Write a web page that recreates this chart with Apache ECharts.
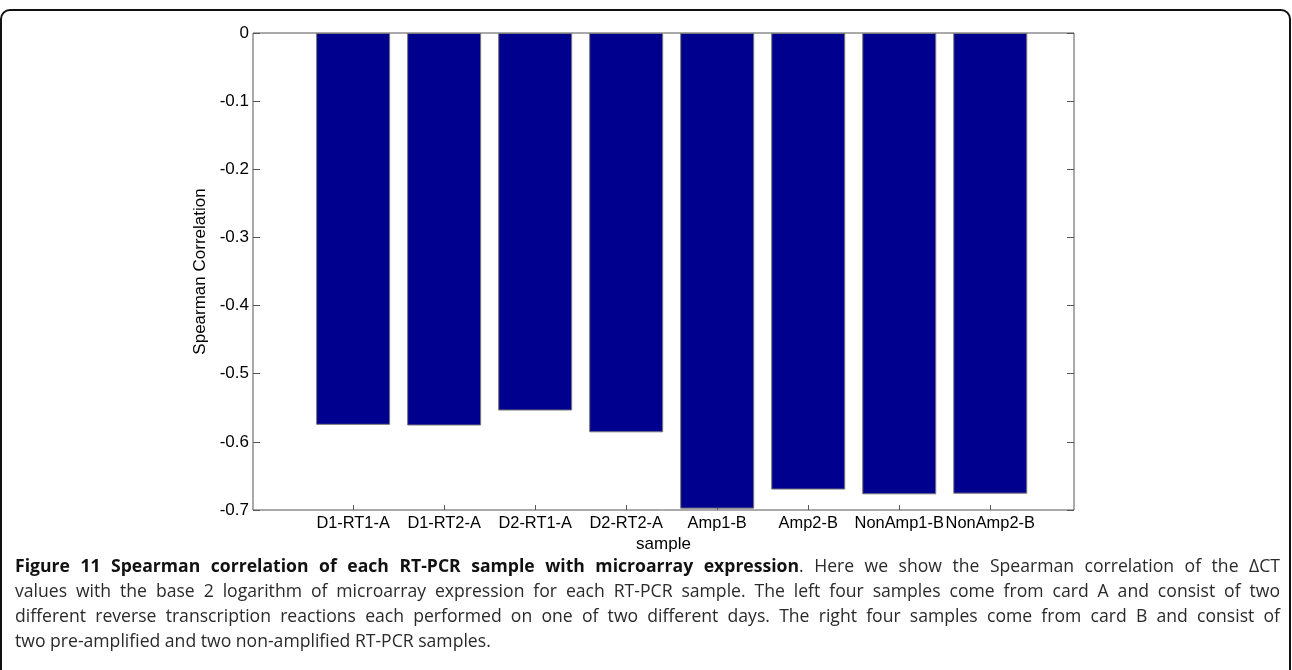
<!DOCTYPE html>
<html>
<head>
<meta charset="utf-8">
<script src="https://cdn.jsdelivr.net/npm/echarts@6/dist/echarts.min.js"></script>
<style>
  html, body { margin: 0; padding: 0; background: #fff; }
  body { width: 1292px; height: 670px; position: relative; overflow: hidden; }
  #frame {
    position: absolute; left: 0; top: 9px; width: 1287px; height: 720px;
    border: 2px solid #111; border-radius: 10px;
  }
  #chart { position: absolute; left: 0; top: 0; width: 1292px; height: 560px; }
  #caption {
    position: absolute; left: 15px; top: 553px; width: 1265px;
    font-family: "Open Sans", "Noto Sans", sans-serif; font-size: 17.6px;
    line-height: 25px; color: #2a2a2a;
  }
  #caption div { text-align: justify; text-align-last: justify; white-space: nowrap; }
  #caption div.last { text-align-last: left; }
  #caption b { font-weight: 700; color: #111; }
</style>
</head>
<body>
<div id="frame"></div>
<div id="chart"></div>
<div id="caption">
  <div><b>Figure 11 Spearman correlation of each RT-PCR sample with microarray expression</b>. Here we show the Spearman correlation of the ΔCT</div>
  <div>values with the base 2 logarithm of microarray expression for each RT-PCR sample. The left four samples come from card A and consist of two</div>
  <div>different reverse transcription reactions each performed on one of two different days. The right four samples come from card B and consist of</div>
  <div class="last">two pre-amplified and two non-amplified RT-PCR samples.</div>
</div>
<script>
// samples on the x axis
var categories = ["D1-RT1-A", "D1-RT2-A", "D2-RT1-A", "D2-RT2-A", "Amp1-B", "Amp2-B", "NonAmp1-B", "NonAmp2-B"];
// spearman correlation per sample
var correlation = [-0.575, -0.576, -0.554, -0.586, -0.698, -0.670, -0.677, -0.676];

var chart = echarts.init(document.getElementById("chart"));

var font = "Liberation Sans, Arial, sans-serif";
var positions = categories.map(function (c, i) { return i + 1; });

var option = {
    animation: false,
    grid: {
        left: 253, top: 33, width: 821, height: 477,
        show: true, borderColor: "#555", borderWidth: 1, backgroundColor: "#fff"
    },
    xAxis: {
        type: "value", min: -0.1, max: 8.92,
        name: "sample", nameLocation: "middle", nameGap: 21,
        nameTextStyle: { color: "#000", fontSize: 17, fontFamily: font },
        axisLine: { show: false, onZero: false },
        axisTick: { show: true, inside: true, length: 5, customValues: positions, lineStyle: { color: "#555" } },
        splitLine: { show: false },
        axisLabel: {
            color: "#000", fontSize: 16.4, fontFamily: font, margin: 5,
            customValues: positions, hideOverlap: false,
            showMinLabel: true, showMaxLabel: true,
            formatter: function (v) { return categories[Math.round(v) - 1] || ""; }
        }
    },
    yAxis: [{
        type: "value", min: -0.7, max: 0, interval: 0.1,
        name: "Spearman Correlation", nameLocation: "middle", nameGap: 30,
        nameTextStyle: { color: "#000", fontSize: 17, fontFamily: font },
        axisLine: { show: false, onZero: false },
        axisTick: { show: true, inside: true, length: 7, lineStyle: { color: "#555" } },
        splitLine: { show: false },
        axisLabel: {
            color: "#000", fontSize: 17, fontFamily: font, margin: 4,
            formatter: function (v) { return v === 0 ? "0" : v.toFixed(1); }
        }
    }, {
        type: "value", min: -0.7, max: 0, interval: 0.1, position: "right",
        axisLine: { show: false, onZero: false },
        axisTick: { show: true, inside: true, length: 7, lineStyle: { color: "#555" } },
        splitLine: { show: false },
        axisLabel: { show: false }
    }],
    series: [{
        type: "bar",
        barWidth: 74,
        data: correlation.map(function (v, i) { return [positions[i], v]; }),
        itemStyle: { color: "#00008f", borderColor: "#777", borderWidth: 1 }
    }]
};

chart.setOption(option);
</script>
</body>
</html>
